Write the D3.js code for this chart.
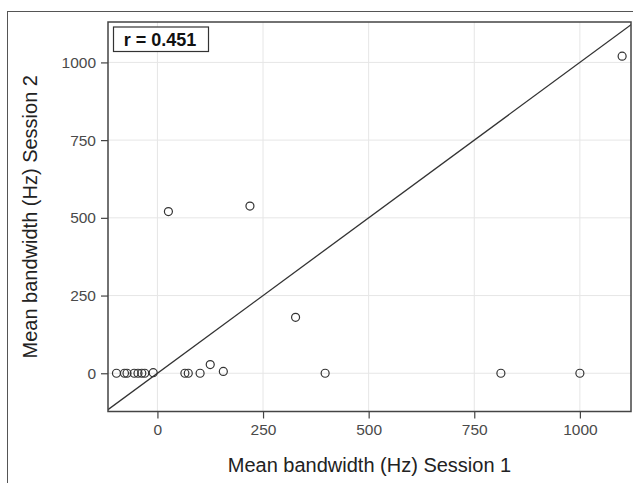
<!DOCTYPE html>
<html>
<head>
<meta charset="utf-8">
<script src="https://cdn.jsdelivr.net/npm/d3@7"></script>
<style>
  html, body { margin: 0; padding: 0; background: #fff; }
  svg { display: block; }
  text { font-family: "Liberation Sans", Arial, Helvetica, sans-serif; }
</style>
</head>
<body>
<svg id="chart" width="633" height="483"></svg>
<script>
// Mean bandwidth (Hz) per participant, session 1 vs session 2
const session1 = [-97, -78, -72, -55, -46, -37, -30, -10, 65, 73, 101, 125, 156, 26, 219, 327, 397, 813, 1000, 1100];
const session2 = [0, 0, 0, 0, 0, 0, 0, 2, 0, 0, 0, 28, 6, 520, 538, 180, 0, 0, 0, 1020];
const xTicks = [0, 250, 500, 750, 1000];
const yTicks = [0, 250, 500, 750, 1000];
const xDomain = [-117, 1121];
const yDomain = [-123, 1130];
const corrLabel = "r = 0.451";
const xTitle = "Mean bandwidth (Hz) Session 1";
const yTitle = "Mean bandwidth (Hz) Session 2";

const svg = d3.select("#chart");
const panel = { left: 108, top: 22, right: 631, bottom: 411.5 };

const x = d3.scaleLinear().domain(xDomain).range([panel.left, panel.right]);
const y = d3.scaleLinear().domain(yDomain).range([panel.bottom, panel.top]);

// outer figure frame
svg.append("rect")
  .attr("x", 7.5).attr("y", 11.5)
  .attr("width", 700).attr("height", 600)
  .attr("fill", "none").attr("stroke", "#555").attr("stroke-width", 1);

svg.append("defs").append("clipPath").attr("id", "panelClip")
  .append("rect")
  .attr("x", panel.left).attr("y", panel.top)
  .attr("width", panel.right - panel.left).attr("height", panel.bottom - panel.top);

// grid
const grid = svg.append("g");
grid.selectAll("line.gx").data(xTicks).join("line")
  .attr("x1", d => x(d)).attr("x2", d => x(d))
  .attr("y1", panel.top).attr("y2", panel.bottom)
  .attr("stroke", "#e6e6e6").attr("stroke-width", 1);
grid.selectAll("line.gy").data(yTicks).join("line")
  .attr("y1", d => y(d)).attr("y2", d => y(d))
  .attr("x1", panel.left).attr("x2", panel.right)
  .attr("stroke", "#e6e6e6").attr("stroke-width", 1);

// identity line
svg.append("line")
  .attr("clip-path", "url(#panelClip)")
  .attr("x1", x(-200)).attr("y1", y(-200))
  .attr("x2", x(1200)).attr("y2", y(1200))
  .attr("stroke", "#333").attr("stroke-width", 1.3);

// points
const pts = session1.map((v, i) => ({ a: v, b: session2[i] }));
svg.append("g").selectAll("circle").data(pts).join("circle")
  .attr("cx", d => x(d.a)).attr("cy", d => y(d.b))
  .attr("r", 4)
  .attr("fill", "none").attr("stroke", "#333").attr("stroke-width", 1.2);

// axes
const xAxis = svg.append("g")
  .attr("transform", `translate(0,${panel.bottom})`)
  .call(d3.axisBottom(x).tickValues(xTicks).tickSize(7).tickPadding(5).tickFormat(d3.format("d")));
const yAxis = svg.append("g")
  .attr("transform", `translate(${panel.left},0)`)
  .call(d3.axisLeft(y).tickValues(yTicks).tickSize(7).tickPadding(5).tickFormat(d3.format("d")));
[xAxis, yAxis].forEach(g => {
  g.select(".domain").remove();
  g.selectAll(".tick line").attr("stroke", "#444").attr("stroke-width", 1.2);
  g.selectAll(".tick text")
    .attr("fill", "#4a4a4a")
    .style("font-size", "15.5px")
    .style("font-family", "'Liberation Sans', Arial, sans-serif");
});

// panel border
svg.append("rect")
  .attr("x", panel.left).attr("y", panel.top)
  .attr("width", panel.right - panel.left).attr("height", panel.bottom - panel.top)
  .attr("fill", "none").attr("stroke", "#444").attr("stroke-width", 1.5);

// correlation label
const lab = svg.append("g");
lab.append("rect")
  .attr("x", 113.5).attr("y", 27)
  .attr("width", 95).attr("height", 24.5)
  .attr("fill", "#fff").attr("stroke", "#333").attr("stroke-width", 1.2);
lab.append("text")
  .attr("x", 160).attr("y", 45.5)
  .attr("text-anchor", "middle")
  .attr("fill", "#111")
  .style("font-size", "18px").style("font-weight", "bold")
  .text(corrLabel);

// axis titles
svg.append("text")
  .attr("x", (panel.left + panel.right) / 2).attr("y", 472)
  .attr("text-anchor", "middle").attr("fill", "#222")
  .style("font-size", "20px")
  .text(xTitle);
svg.append("text")
  .attr("transform", `translate(37,${(panel.top + panel.bottom) / 2}) rotate(-90)`)
  .attr("text-anchor", "middle").attr("fill", "#222")
  .style("font-size", "20px")
  .text(yTitle);
</script>
</body>
</html>
